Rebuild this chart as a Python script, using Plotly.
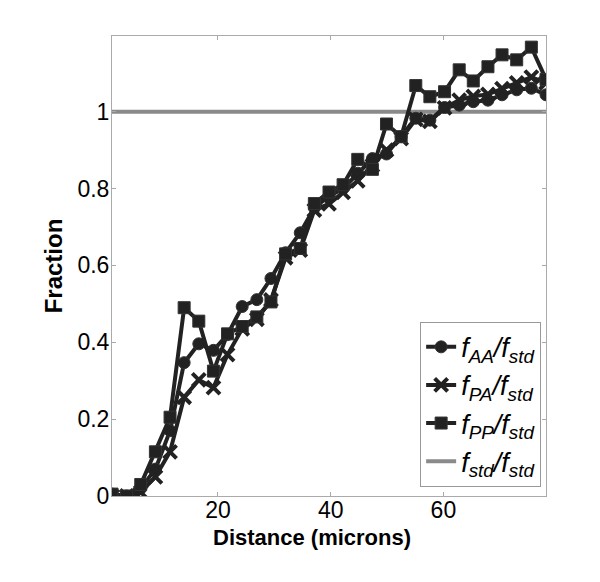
import plotly.graph_objects as go

distance = [1.2, 3.8, 6.3, 8.9, 11.5, 14.0, 16.6, 19.2, 21.7, 24.3, 26.9, 29.4, 32.0, 34.6,
            37.1, 39.7, 42.2, 44.8, 47.4, 49.9, 52.5, 55.1, 57.6, 60.2, 62.8, 65.3, 67.9,
            70.4, 73.0, 75.6, 78.2]
f_aa = [0.005, 0.0, 0.02, 0.07, 0.17, 0.347, 0.396, 0.379, 0.42, 0.493, 0.511, 0.566, 0.633,
        0.685, 0.75, 0.78, 0.80, 0.84, 0.878, 0.89, 0.935, 0.983, 0.978, 1.011, 1.017, 1.026,
        1.03, 1.044, 1.057, 1.061, 1.044]
f_pa = [0.0, 0.0, 0.01, 0.05, 0.115, 0.257, 0.302, 0.282, 0.368, 0.435, 0.46, 0.51, 0.62,
        0.64, 0.744, 0.76, 0.79, 0.82, 0.86, 0.90, 0.93, 0.98, 0.975, 1.01, 1.03, 1.04, 1.045,
        1.06, 1.075, 1.09, 1.075]
f_pp = [0.005, 0.0, 0.03, 0.115, 0.205, 0.49, 0.455, 0.325, 0.422, 0.441, 0.466, 0.505, 0.63,
        0.644, 0.761, 0.791, 0.81, 0.876, 0.85, 0.968, 0.935, 1.068, 1.039, 1.052, 1.109, 1.08,
        1.117, 1.148, 1.135, 1.168, 1.084]
f_std = [1.0] * len(distance)

x_ticks = [20, 40, 60]
y_ticks = [0, 0.2, 0.4, 0.6, 0.8, 1]
y_tick_labels = ["0", "0.2", "0.4", "0.6", "0.8", "1"]

DARK = "#222222"
GREY = "#8a8a8a"

fig = go.Figure()
fig.add_trace(go.Scatter(x=distance, y=f_std, mode="lines",
                         line=dict(color=GREY, width=4),
                         name="<i>f<sub>std</sub>/f<sub>std</sub></i>", legendrank=4))
fig.add_trace(go.Scatter(x=distance, y=f_aa, mode="lines+markers",
                         line=dict(color=DARK, width=4),
                         marker=dict(symbol="circle", size=12, color=DARK,
                                     line=dict(color="#333", width=1)),
                         name="<i>f<sub>AA</sub>/f<sub>std</sub></i>", legendrank=1))
fig.add_trace(go.Scatter(x=distance, y=f_pa, mode="lines+markers",
                         line=dict(color=DARK, width=4),
                         marker=dict(symbol="x-thin", size=13, color=DARK,
                                     line=dict(color=DARK, width=4)),
                         name="<i>f<sub>PA</sub>/f<sub>std</sub></i>", legendrank=2))
fig.add_trace(go.Scatter(x=distance, y=f_pp, mode="lines+markers",
                         line=dict(color=DARK, width=4),
                         marker=dict(symbol="square", size=12, color=DARK,
                                     line=dict(color="#333", width=1)),
                         name="<i>f<sub>PP</sub>/f<sub>std</sub></i>", legendrank=3))

fig.add_annotation(text="<b>Distance (microns)</b>", xref="paper", yref="paper",
                   x=0.46, y=-0.091, xanchor="center", yanchor="middle",
                   showarrow=False, font=dict(size=22))

fig.update_layout(
    width=600, height=582,
    margin=dict(l=104, r=62, t=28, b=94, autoexpand=False),
    paper_bgcolor="white", plot_bgcolor="white",
    font=dict(family="Liberation Sans, Arial", size=23, color="black"),
    showlegend=True,
    legend=dict(x=0.71, y=0.02, xanchor="left", yanchor="bottom",
                bgcolor="white", bordercolor="#999", borderwidth=1,
                font=dict(size=27), itemwidth=30, tracegroupgap=0),
    xaxis=dict(range=[1.2, 78.2], tickvals=x_ticks, ticks="inside", ticklen=4,
               tickcolor="#aaa", showline=True, linecolor="#aaa", linewidth=1,
               mirror="ticks", showgrid=False, zeroline=False, automargin=False,
               ticklabelstandoff=-7),
    yaxis=dict(range=[0, 1.197], tickvals=y_ticks, ticktext=y_tick_labels, ticks="inside",
               ticklen=4, tickcolor="#aaa", showline=True, linecolor="#aaa", linewidth=1,
               mirror="ticks", showgrid=False, zeroline=False, automargin=False,
               ticklabelstandoff=-3,
               title=dict(text="<b>Fraction</b>", font=dict(size=24), standoff=8)),
)

fig.write_html("out.html")
